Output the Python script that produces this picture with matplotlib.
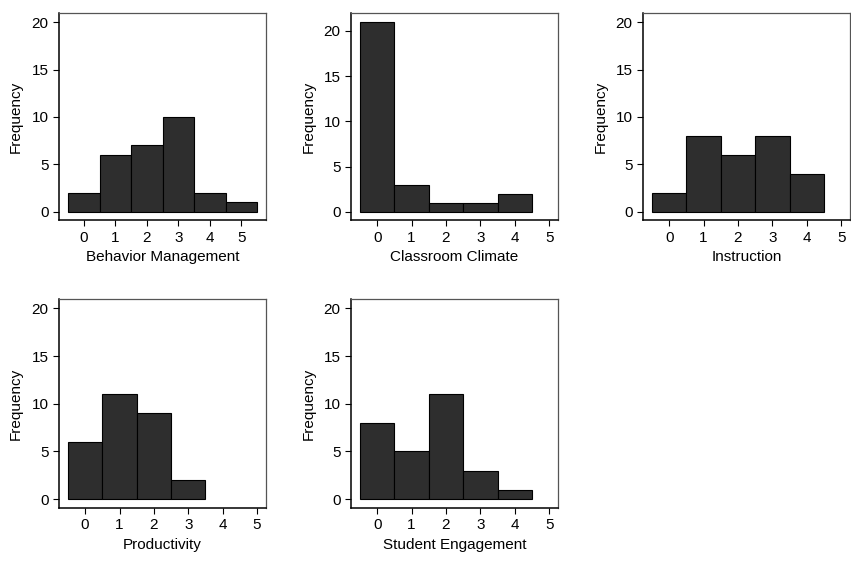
import numpy as np
import matplotlib.pyplot as plt

plt.rcParams['font.family'] = ['Liberation Sans', 'DejaVu Sans']

# frequencies per score (scores start at 0)
behavior_management = [2, 6, 7, 10, 2, 1]
classroom_climate = [21, 3, 1, 1, 2]
instruction = [2, 8, 6, 8, 4]
productivity = [6, 11, 9, 2]
student_engagement = [8, 5, 11, 3, 1]

panels = [
    ("Behavior Management", behavior_management),
    ("Classroom Climate", classroom_climate),
    ("Instruction", instruction),
    ("Productivity", productivity),
    ("Student Engagement", student_engagement),
]

# axes boxes in figure fractions [left, bottom, width, height]
lefts = [0.0693, 0.4125, 0.7556]
boxes = [
    [lefts[0], 0.607, 0.2433, 0.370],
    [lefts[1], 0.607, 0.2433, 0.370],
    [lefts[2], 0.607, 0.2433, 0.370],
    [lefts[0], 0.0945, 0.2433, 0.3725],
    [lefts[1], 0.0945, 0.2433, 0.3725],
]

fig = plt.figure(figsize=(8.51, 5.61), dpi=100)

for (label, counts), box in zip(panels, boxes):
    ax = fig.add_axes(box)
    scores = np.arange(len(counts))
    ax.bar(scores, counts, width=1.0, color='#2e2e2e', edgecolor='black', linewidth=0.8)

    if len(counts) > 5:
        ax.set_xlim(-0.79, 5.78)
    else:
        ax.set_xlim(-0.76, 5.26)
    if max(counts) > 20:
        ax.set_ylim(-0.95, 22.0)
    else:
        ax.set_ylim(-0.92, 20.98)

    ax.set_xticks(range(6))
    ax.set_yticks([0, 5, 10, 15, 20])
    ax.tick_params(direction='out', length=4.5, width=0.8, labelsize=11, pad=3)
    ax.set_xlabel(label, fontsize=11, labelpad=4)
    ax.set_ylabel("Frequency", fontsize=11, labelpad=6)

    for side in ['left', 'bottom']:
        ax.spines[side].set_linewidth(1.1)
        ax.spines[side].set_color('black')
    for side in ['top', 'right']:
        ax.spines[side].set_linewidth(0.9)
        ax.spines[side].set_color('#555555')

fig.savefig('out.png', dpi=100)
